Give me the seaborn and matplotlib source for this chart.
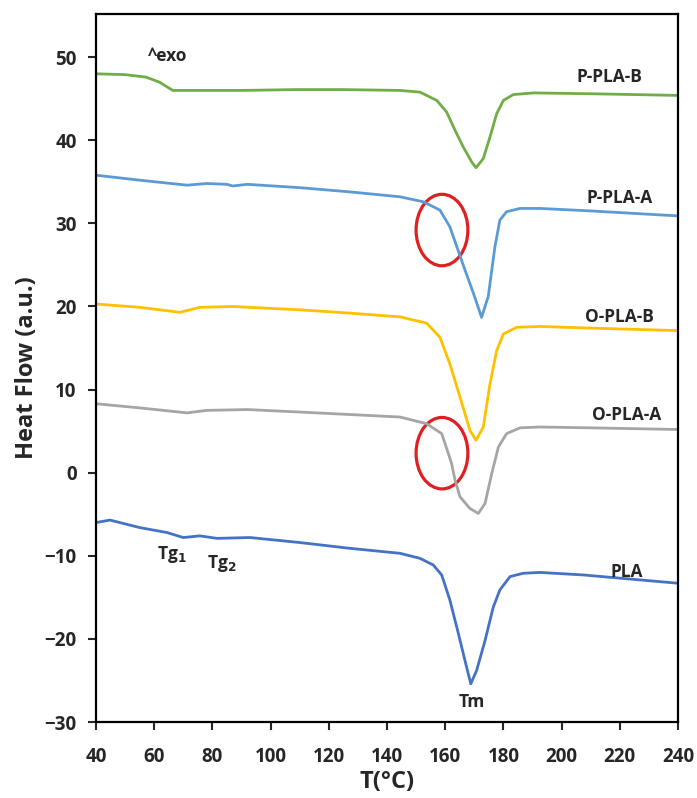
import numpy as np
import pandas as pd
import matplotlib
matplotlib.use("Agg")
import matplotlib.pyplot as plt
from matplotlib.patches import Ellipse
import seaborn as sns

# -----------------------------
# DATA
# -----------------------------
ppla_b_T = [40, 50, 57.2, 61.8, 66.4, 70, 90, 108.7, 125, 144.5, 151.3, 157.1, 160.5, 163.4, 166.2, 169.1, 170.6,
            173.1, 175.4, 177.7, 180, 183.4, 190.3, 210, 240]
ppla_b_H = [48.0, 47.9, 47.6, 47.0, 46.0, 46.0, 46.0, 46.1, 46.1, 46.0, 45.8, 44.8, 43.4, 41.2, 39.2, 37.4, 36.7,
            37.8, 40.4, 43.2, 44.8, 45.5, 45.7, 45.6, 45.4]

ppla_a_T = [40, 55, 71.3, 78, 85, 87, 92, 110, 127, 144.5, 152.5, 158.2, 161.6, 164, 166.8, 169.7, 172.5,
            174.8, 177.1, 178.8, 181.1, 185.7, 192.6, 210, 240]
ppla_a_H = [35.8, 35.2, 34.6, 34.8, 34.7, 34.5, 34.7, 34.3, 33.8, 33.2, 32.6, 31.6, 29.6, 27.2, 24.4, 21.6, 18.7,
            21.2, 27.2, 30.4, 31.4, 31.8, 31.8, 31.5, 30.9]

opla_b_T = [40, 55, 68.9, 75.7, 87, 110, 127.3, 144.5, 153.6, 158.2, 161.6, 165.1, 168.5, 170.6,
            173.1, 175.4, 177.7, 180, 184.6, 192.6, 210, 240]
opla_b_H = [20.3, 19.9, 19.3, 19.9, 20.0, 19.6, 19.2, 18.75, 18.0, 16.3, 13.1, 9.1, 5.1, 3.9,
            5.5, 10.7, 14.7, 16.7, 17.5, 17.6, 17.4, 17.1]

opla_a_T = [40, 55, 71.3, 78, 92, 110, 127.3, 144.5, 153.6, 158.8, 161.1, 162.2, 163.4, 165.1, 168.5, 171.4,
            173.7, 176, 178.3, 181.1, 185.7, 192.6, 210, 240]
opla_a_H = [8.3, 7.8, 7.2, 7.5, 7.6, 7.3, 7.0, 6.7, 5.9, 4.7, 2.3, 1.1, -0.9, -2.9, -4.3, -4.9,
            -3.7, -0.1, 3.1, 4.7, 5.4, 5.5, 5.4, 5.2]

pla_T = [40, 44.8, 55, 64.4, 70, 75.7, 81.6, 92.9, 110, 127.3, 144.5, 151.3, 155.9, 158.8, 161.6, 164.5, 166.8, 168.8,
         170.8, 173.7, 176.5, 178.8, 182.3, 186.8, 192.6, 207.4, 240]
pla_H = [-6.0, -5.7, -6.6, -7.2, -7.8, -7.6, -7.9, -7.8, -8.4, -9.1, -9.7, -10.3, -11.1, -12.3, -15.3, -19.3, -22.6, -25.4,
         -23.8, -20.2, -16.2, -14.1, -12.5, -12.1, -12.0, -12.3, -13.3]

series_names = ["P-PLA-B", "P-PLA-A", "O-PLA-B", "O-PLA-A", "PLA"]
series_T = [ppla_b_T, ppla_a_T, opla_b_T, opla_a_T, pla_T]
series_H = [ppla_b_H, ppla_a_H, opla_b_H, opla_a_H, pla_H]
series_colors = ["#70ad47", "#5b9bd5", "#ffc000", "#a5a5a5", "#4472c4"]

# label anchor points (T, H)
label_T = [216.6, 220, 220, 222.5, 222.5]
label_H = [47.6, 33.0, 18.7, 6.9, -12.0]

# highlighted shoulders (centre T, centre H)
circle_T = [158.9, 158.9]
circle_H = [29.2, 2.35]

x_ticks = list(range(40, 241, 20))
y_ticks = list(range(-30, 51, 10))

# -----------------------------
# PLOT
# -----------------------------
sns.set_style("ticks")
plt.rcParams["font.family"] = ["Open Sans", "DejaVu Sans"]

rows = []
for name, T, H in zip(series_names, series_T, series_H):
    for t, h in zip(T, H):
        rows.append({"T": t, "H": h, "sample": name})
df = pd.DataFrame(rows)

fig = plt.figure(figsize=(6.97, 7.98), dpi=100)
ax = fig.add_axes([0.1377, 0.0952, 0.835, 0.8873])

sns.lineplot(data=df, x="T", y="H", hue="sample", hue_order=series_names,
             palette=series_colors, estimator=None, sort=False,
             linewidth=2.0, legend=False, ax=ax)
for line in ax.get_lines():
    line.set_solid_joinstyle("round")

for name, tx, hy in zip(series_names, label_T, label_H):
    ax.text(tx, hy, name, ha="center", va="center", fontsize=12.5, fontweight="bold")

for cx, cy in zip(circle_T, circle_H):
    ax.add_patch(Ellipse((cx, cy), width=17.8, height=8.6, fill=False,
                         edgecolor="#e02020", linewidth=2.3))

ax.text(64.7, 50.2, "^exo", ha="center", va="center", fontsize=12.5, fontweight="bold")
ax.text(66, -9.9, "Tg$_\\mathbf{1}$", ha="center", va="center", fontsize=12.5, fontweight="bold")
ax.text(83.3, -10.9, "Tg$_\\mathbf{2}$", ha="center", va="center", fontsize=12.5, fontweight="bold")
ax.text(169.2, -27.6, "Tm", ha="center", va="center", fontsize=12.5, fontweight="bold")

ax.set_xlim(40, 240)
ax.set_ylim(-30, 55.2)
ax.set_xticks(x_ticks)
ax.set_yticks(y_ticks)
ax.tick_params(direction="out", length=6, width=1.5, labelsize=13.5)
ax.tick_params(axis="x", pad=12)
ax.tick_params(axis="y", pad=8)
for lab in ax.get_xticklabels() + ax.get_yticklabels():
    lab.set_fontweight("bold")
for sp in ax.spines.values():
    sp.set_visible(True)
    sp.set_linewidth(1.6)
    sp.set_color("black")

ax.set_xlabel("T(°C)", fontsize=17, fontweight="bold", labelpad=2)
ax.set_ylabel("Heat Flow (a.u.)", fontsize=17, fontweight="bold", labelpad=4)

fig.savefig("out.png", dpi=100)
